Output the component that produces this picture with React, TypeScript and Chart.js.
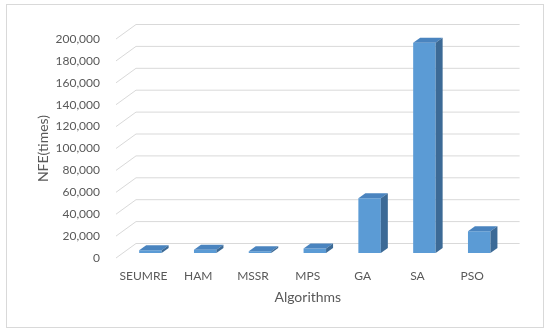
import React, { useEffect, useRef } from 'react';
import { Chart, registerables } from 'chart.js';

Chart.register(...registerables);

const categories = ['SEUMRE', 'HAM', 'MSSR', 'MPS', 'GA', 'SA', 'PSO'];
const nfeValues = [2500, 3000, 1600, 4000, 50000, 192000, 19800];
const yMin = 0;
const yMax = 200000;
const yStep = 20000;
const xTitle = 'Algorithms';
const yTitle = 'NFE(times)';

const FRONT = '#5b9bd5';
const TOP = '#4a84bf';
const SIDE = '#3c6a96';
const GRID = '#d9d9d9';
const TEXT = '#595959';

const WALL_DX = 20;
const WALL_DY = -14.5;
const BAR_OX = 7;
const BAR_OY = -5;
const BAR_DX = 7;
const BAR_DY = -5;

const threeD = {
  id: 'threeD',
  beforeDraw(chart: any) {
    const { ctx, width, height } = chart;
    ctx.save();
    ctx.fillStyle = '#ffffff';
    ctx.fillRect(0, 0, width, height);
    ctx.strokeStyle = GRID;
    ctx.lineWidth = 1;
    ctx.strokeRect(6.5, 4.5, 537, 323);
    ctx.restore();
  },
  beforeDatasetsDraw(chart: any) {
    const { ctx, chartArea } = chart;
    const y = chart.scales.y;
    ctx.save();
    ctx.strokeStyle = GRID;
    ctx.lineWidth = 1;
    y.ticks.forEach((t: any) => {
      const py = y.getPixelForValue(t.value);
      ctx.beginPath();
      ctx.moveTo(chartArea.left, py);
      ctx.lineTo(chartArea.left + WALL_DX, py + WALL_DY);
      ctx.lineTo(chartArea.right + WALL_DX, py + WALL_DY);
      ctx.stroke();
    });
    ctx.restore();
    ctx.save();
    ctx.translate(BAR_OX, BAR_OY);
  },
  afterDatasetsDraw(chart: any) {
    const { ctx } = chart;
    ctx.restore();
    const meta = chart.getDatasetMeta(0);
    ctx.save();
    meta.data.forEach((bar: any) => {
      const { x, y, base, width } = bar.getProps(['x', 'y', 'base', 'width'], true);
      const l = x - width / 2 + BAR_OX;
      const r = x + width / 2 + BAR_OX;
      const t = y + BAR_OY;
      const b = base + BAR_OY;
      ctx.fillStyle = TOP;
      ctx.beginPath();
      ctx.moveTo(l, t);
      ctx.lineTo(r, t);
      ctx.lineTo(r + BAR_DX, t + BAR_DY);
      ctx.lineTo(l + BAR_DX, t + BAR_DY);
      ctx.closePath();
      ctx.fill();
      ctx.fillStyle = SIDE;
      ctx.beginPath();
      ctx.moveTo(r, t);
      ctx.lineTo(r + BAR_DX, t + BAR_DY);
      ctx.lineTo(r + BAR_DX, b + BAR_DY);
      ctx.lineTo(r, b);
      ctx.closePath();
      ctx.fill();
    });
    ctx.restore();
  },
};

export default function App() {
  const ref = useRef<HTMLCanvasElement | null>(null);

  useEffect(() => {
    if (!ref.current) return;
    Chart.defaults.font.family = 'Lato';
    const chart = new Chart(ref.current, {
      type: 'bar',
      data: {
        labels: categories,
        datasets: [
          {
            data: nfeValues,
            backgroundColor: FRONT,
            borderWidth: 0,
            categoryPercentage: 1,
            barPercentage: 0.41,
          },
        ],
      },
      options: {
        animation: false,
        responsive: false,
        devicePixelRatio: 1,
        layout: { padding: { top: 39, left: 0, right: 50.4, bottom: 25 } },
        plugins: { legend: { display: false }, tooltip: { enabled: false } },
        scales: {
          x: {
            ticks: { padding: 10.5, color: TEXT, font: { size: 12, family: 'Lato' }, maxRotation: 0 },
            grid: { display: false, drawTicks: false, tickLength: 0 },
            border: { display: false },
            title: {
              display: true,
              text: xTitle,
              color: TEXT,
              font: { size: 14, family: 'Lato' },
              padding: { top: 0, bottom: 1.9 },
            },
            afterFit(scale: any) {
              scale.height = 50;
            },
          },
          y: {
            min: yMin,
            max: yMax,
            ticks: { stepSize: yStep, padding: 16, color: TEXT, font: { size: 12, family: 'Lato' } },
            grid: { display: false, drawTicks: false, tickLength: 0 },
            border: { display: false },
            title: {
              display: true,
              text: yTitle,
              color: TEXT,
              font: { size: 14, family: 'Lato' },
              padding: { top: 35.4, bottom: 0 },
            },
            afterFit(scale: any) {
              scale.width = 116;
            },
          },
        },
      },
      plugins: [threeD],
    });
    return () => chart.destroy();
  }, []);

  return (
    <div style={{ position: 'fixed', left: 0, top: 0, width: 550, height: 333, background: '#fff' }}>
      <canvas ref={ref} width={550} height={333} style={{ display: 'block', width: 550, height: 333 }} />
    </div>
  );
}
